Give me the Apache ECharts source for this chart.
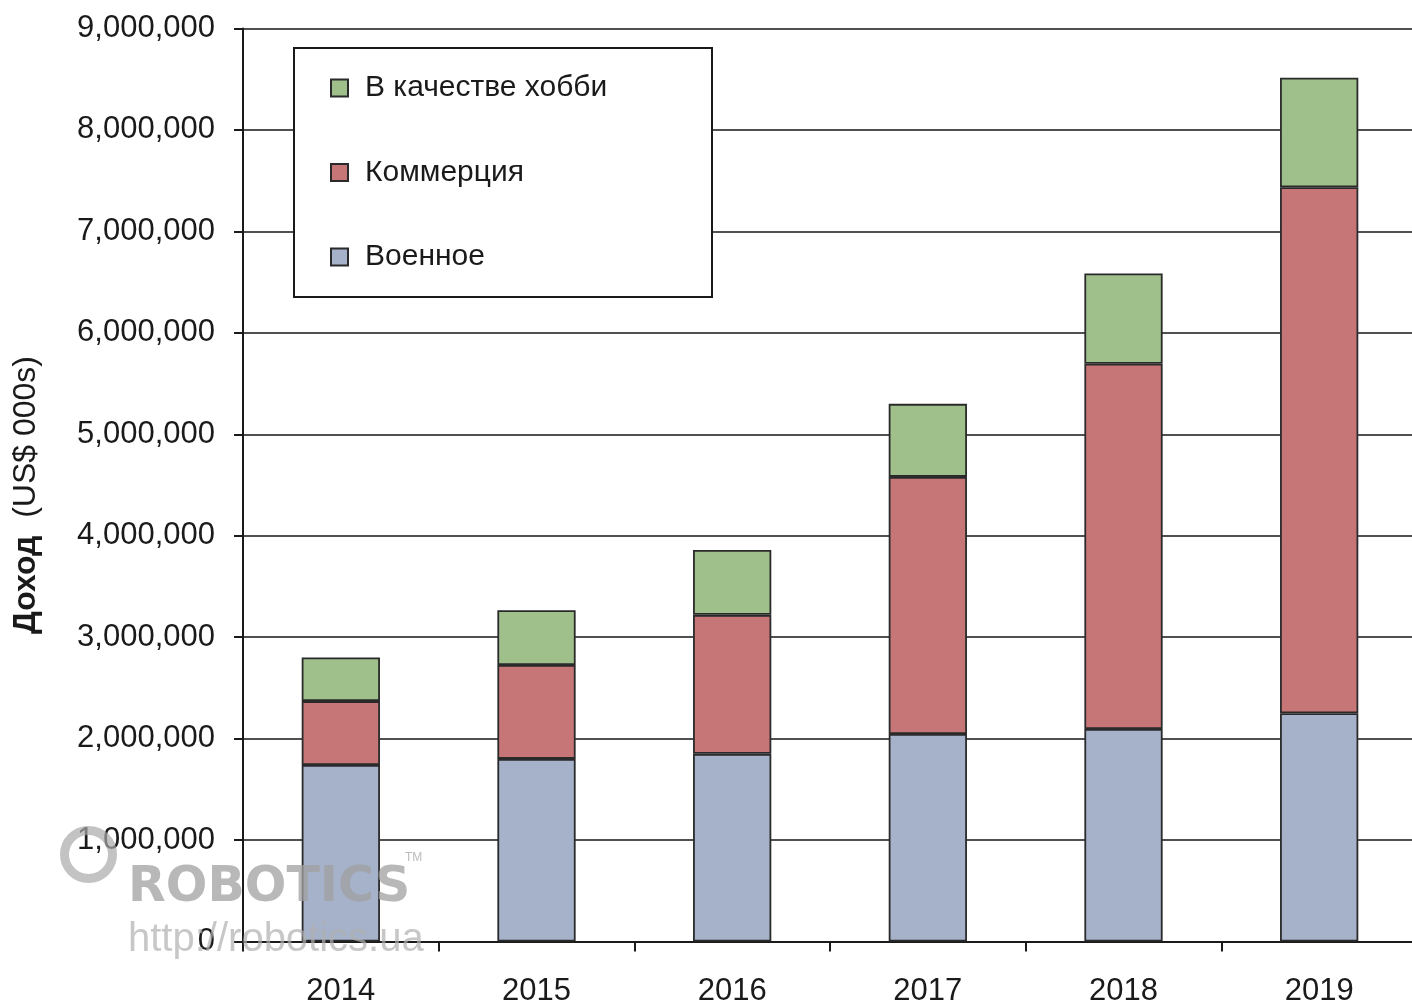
<!DOCTYPE html>
<html>
<head>
<meta charset="utf-8">
<script src="https://cdn.jsdelivr.net/npm/echarts@6/dist/echarts.min.js"></script>
<style>
html,body{margin:0;padding:0;background:#fff;}
#chart{width:1412px;height:1003px;}
</style>
</head>
<body>
<div id="chart"></div>
<script>
var categories = ['2014', '2015', '2016', '2017', '2018', '2019'];
var seriesNames = ['Военное', 'Коммерция', 'В качестве хобби'];
var military = [1740000, 1800000, 1850000, 2045000, 2095000, 2250000];
var commercial = [630000, 925000, 1370000, 2535000, 3600000, 5185000];
var hobby = [430000, 540000, 640000, 720000, 890000, 1080000];
var yTicks = {min: 0, max: 9000000, interval: 1000000};
var yTitle = 'Доход';
var yTitleUnit = '(US$ 000s)';

var FONT = '"Liberation Sans", Arial, sans-serif';
var colors = ['#a5b2c9', '#c77678', '#a0c08b'];

var chart = echarts.init(document.getElementById('chart'));
var seriesData = [military, commercial, hobby];
var series = seriesData.map(function (d, i) {
  return {
    name: seriesNames[i],
    type: 'bar',
    stack: 'total',
    barWidth: '40%',
    data: d,
    itemStyle: {color: colors[i], borderColor: '#2a2a2a', borderWidth: 1.8},
    emphasis: {disabled: true}
  };
});

chart.setOption({
  animation: false,
  backgroundColor: '#fff',
  color: colors,
  grid: {left: 243, top: 28.5, bottom: 61.5, width: 1174, containLabel: false, outerBoundsMode: 'none'},
  legend: {
    orient: 'vertical',
    left: 330, top: 68,
    z: 10,
    icon: 'rect',
    data: [seriesNames[2], seriesNames[1], seriesNames[0]],
    itemWidth: 17, itemHeight: 17,
    itemGap: 44.5,
    padding: 0,
    selectedMode: false,
    textStyle: {fontFamily: FONT, fontSize: 30, color: '#1a1a1a', lineHeight: 40, padding: [0, 0, 0, 12]}
  },
  xAxis: {
    type: 'category',
    data: categories,
    axisLine: {lineStyle: {color: '#1a1a1a', width: 2}},
    axisTick: {show: true, length: 10, lineStyle: {color: '#1a1a1a', width: 2}},
    axisLabel: {fontFamily: FONT, fontSize: 31, color: '#1a1a1a', margin: 34}
  },
  yAxis: {
    type: 'value',
    min: yTicks.min, max: yTicks.max, interval: yTicks.interval,
    axisLine: {show: true, lineStyle: {color: '#1a1a1a', width: 2}},
    axisTick: {show: true, inside: false, length: 9, lineStyle: {color: '#1a1a1a', width: 2}},
    axisLabel: {
      fontFamily: FONT, fontSize: 31, color: '#1a1a1a', margin: 28,
      formatter: function (v) { return v.toLocaleString('en-US'); }
    },
    splitLine: {show: true, lineStyle: {color: '#505050', width: 2.2}}
  },
  graphic: [
    {type: 'rect', left: 293, top: 47, z: 3,
     shape: {width: 418, height: 249},
     style: {fill: '#fff', stroke: '#1a1a1a', lineWidth: 2}},
    {type: 'text', x: 26, y: 495, rotation: Math.PI / 2, z: 10,
     style: {
       text: '{b|' + yTitle + '}  ' + yTitleUnit,
       align: 'center', verticalAlign: 'middle',
       fontFamily: FONT, fontSize: 32, fill: '#1a1a1a',
       rich: {b: {fontFamily: FONT, fontSize: 32, fontWeight: 'bold', fill: '#1a1a1a'}}
     }},
    {type: 'text', left: 128, top: 864, z: 50, silent: true,
     style: {text: 'ROBOTICS', fontFamily: '"DejaVu Sans", sans-serif', fontWeight: 'bold', fontSize: 49,
             fill: 'rgba(160,160,160,0.75)'}},
    {type: 'text', left: 405, top: 852, z: 50, silent: true,
     style: {text: 'TM', fontFamily: FONT, fontSize: 12, fill: 'rgba(170,170,170,0.8)'}},
    {type: 'text', left: 128, top: 920, z: 50, silent: true,
     style: {text: 'http://robotics.ua', fontFamily: FONT, fontSize: 40,
             fill: 'rgba(175,175,175,0.7)'}},
    {type: 'circle', left: 60, top: 826, z: 50, silent: true,
     shape: {r: 24},
     style: {fill: 'none', stroke: 'rgba(170,170,170,0.7)', lineWidth: 9}}
  ],
  series: series
});
</script>
</body>
</html>
